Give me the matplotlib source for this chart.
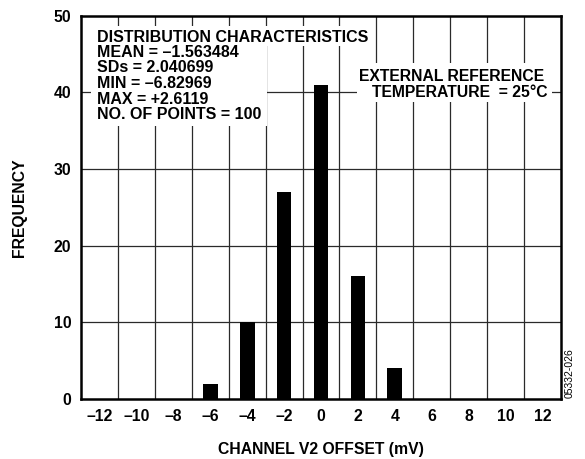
import matplotlib
matplotlib.use("Agg")
import matplotlib.pyplot as plt
from matplotlib.patches import Rectangle

plt.rcParams['font.family'] = ['Liberation Sans', 'DejaVu Sans']
plt.rcParams['font.weight'] = 'bold'

# histogram bins (mV) and counts
offsets = [-6, -4, -2, 0, 2, 4]
counts = [2, 10, 27, 41, 16, 4]
xticks = [-12, -10, -8, -6, -4, -2, 0, 2, 4, 6, 8, 10, 12]
yticks = [0, 10, 20, 30, 40, 50]
xgrid = [-11, -9, -7, -5, -3, -1, 1, 3, 5, 7, 9, 11]
ygrid = [10, 20, 30, 40]

stats_lines = ["DISTRIBUTION CHARACTERISTICS",
               "MEAN = \u20131.563484",
               "SDs = 2.040699",
               "MIN = \u20136.82969",
               "MAX = +2.6119",
               "NO. OF POINTS = 100"]
ref_lines = ["EXTERNAL REFERENCE", "TEMPERATURE  = 25\u00b0C"]

fig = plt.figure(figsize=(5.85, 4.59), dpi=100)
# axes box in pixels: x 81..561, y 15.5..399
ax = fig.add_axes([81 / 585, 60 / 459, 480 / 585, 383.5 / 459])


def px(x, y):
    """pixel (from top-left of figure) -> axes fraction"""
    return (x - 81) / 480, (399 - y) / 383.5


for g in xgrid:
    ax.axvline(g, color='#2a2a2a', lw=0.9, zorder=1)
for g in ygrid:
    ax.axhline(g, color='#2a2a2a', lw=0.9, zorder=1)

ax.bar(offsets, counts, width=0.8, color='black', zorder=3)

ax.set_xlim(-13, 13)
ax.set_ylim(0, 50)
ax.set_xticks(xticks)
ax.set_xticklabels([str(t).replace('-', '\u2013') for t in xticks])
ax.set_yticks(yticks)
ax.tick_params(length=0, labelsize=11.3, pad=7)
for lbl in ax.get_xticklabels() + ax.get_yticklabels():
    lbl.set_fontweight('bold')
for s in ax.spines.values():
    s.set_linewidth(1.8)
    s.set_zorder(5)

ax.set_xlabel("CHANNEL V2 OFFSET (mV)", fontsize=11.3, fontweight='bold', labelpad=13)
ax.set_ylabel("FREQUENCY", fontsize=11.3, fontweight='bold', labelpad=19)

# white backgrounds behind the annotation blocks
for (x0, y0, x1, y1) in [(91, 26, 370, 46), (91, 46, 267, 126), (357, 63, 552, 102)]:
    a0 = px(x0, y1)
    a1 = px(x1, y0)
    ax.add_patch(Rectangle(a0, a1[0] - a0[0], a1[1] - a0[1], transform=ax.transAxes,
                           facecolor='white', edgecolor='none', zorder=2))

baseline = [41.7, 56.7, 72, 88.3, 104, 119]
for line, yb in zip(stats_lines, baseline):
    ax.text(*px(97, yb), line, transform=ax.transAxes, fontsize=11.5,
            fontweight='bold', ha='left', va='baseline', zorder=4)

ax.text(*px(452, 80.7), ref_lines[0], transform=ax.transAxes, fontsize=11.3,
        fontweight='bold', ha='center', va='baseline', zorder=4)
ax.text(*px(459.5, 96.7), ref_lines[1], transform=ax.transAxes, fontsize=11.3,
        fontweight='bold', ha='center', va='baseline', zorder=4)

fig.text(0.973, 0.187, "05332-026", rotation=90, fontsize=7.5,
         fontweight='normal', ha='center', va='center')

fig.savefig("out.png", dpi=100)
